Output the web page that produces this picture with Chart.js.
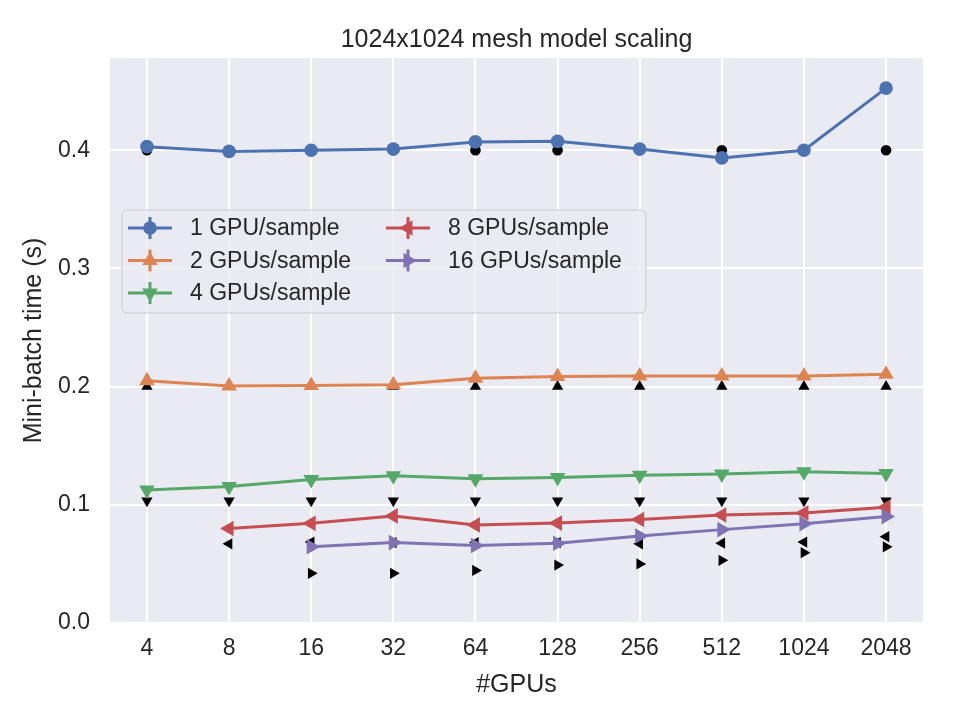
<!DOCTYPE html>
<html>
<head>
<meta charset="utf-8">
<script src="https://cdn.jsdelivr.net/npm/chart.js@4.4.1/dist/chart.umd.min.js"></script>
<style>
    html, body { margin: 0; padding: 0; background: #fff; }
    #wrap { width: 960px; height: 720px; }
</style>
</head>
<body>
<div id="wrap"><canvas id="chart" width="960" height="720"></canvas></div>
<script>
const gpus = ['4', '8', '16', '32', '64', '128', '256', '512', '1024', '2048'];
const yTicks = [0, 0.1, 0.2, 0.3, 0.4];

// measured mini-batch times (s)
const oneGpu = [0.403, 0.399, 0.400, 0.401, 0.407, 0.4075, 0.401, 0.3935, 0.400, 0.4525];
const twoGpus = [0.205, 0.2005, 0.201, 0.2015, 0.207, 0.2085, 0.209, 0.209, 0.209, 0.2105];
const fourGpus = [0.1125, 0.1155, 0.1215, 0.1245, 0.122, 0.123, 0.125, 0.126, 0.128, 0.1265];
const eightGpus = [null, 0.080, 0.0843, 0.0906, 0.083, 0.0845, 0.0875, 0.0914, 0.093, 0.098];
const sixteenGpus = [null, null, 0.0645, 0.068, 0.0655, 0.0675, 0.0736, 0.0790, 0.084, 0.090];

// black reference markers
const refOne = [0.4, 0.4, 0.4, 0.4, 0.4, 0.4, 0.4, 0.4, 0.4, 0.4];
const refTwo = [0.2, 0.2, 0.2, 0.2, 0.2, 0.2, 0.2, 0.2, 0.2, 0.2];
const refFour = [0.1035, 0.1035, 0.1035, 0.1035, 0.1035, 0.1035, 0.1035, 0.1035, 0.1035, 0.1035];
const refEight = [null, 0.067, 0.0685, 0.068, 0.068, 0.068, 0.067, 0.0675, 0.0685, 0.073];
const refSixteen = [null, null, 0.042, 0.042, 0.0445, 0.049, 0.050, 0.053, 0.0595, 0.0645];

const labels = ['1 GPU/sample', '2 GPUs/sample', '4 GPUs/sample', '8 GPUs/sample', '16 GPUs/sample'];
const colors = ['#4C72B0', '#DD8452', '#55A868', '#C44E52', '#8172B3'];
const styles = [
    { pointStyle: 'circle', rotation: 0, radius: 6.8 },
    { pointStyle: 'triangle', rotation: 0, radius: 9 },
    { pointStyle: 'triangle', rotation: 180, radius: 9 },
    { pointStyle: 'triangle', rotation: 270, radius: 9 },
    { pointStyle: 'triangle', rotation: 90, radius: 9 }
];

const FONT = "'Liberation Sans', Arial, sans-serif";
const TEXT = '#262626';

function toPoints(values) {
    const pts = [];
    values.forEach((v, i) => {
        if (v !== null) pts.push({ x: i, y: v });
    });
    return pts;
}

const series = [oneGpu, twoGpus, fourGpus, eightGpus, sixteenGpus];
const refs = [refOne, refTwo, refFour, refEight, refSixteen];

const datasets = [];
refs.forEach((r, k) => {
    datasets.push({
        label: 'ref ' + labels[k],
        data: toPoints(r),
        showLine: false,
        backgroundColor: '#000',
        borderColor: '#000',
        borderWidth: 0,
        pointStyle: styles[k].pointStyle,
        rotation: styles[k].rotation,
        pointRadius: k === 0 ? 5.3 : 6.5,
        order: 10
    });
});
series.forEach((s, k) => {
    datasets.push({
        label: labels[k],
        data: toPoints(s),
        showLine: true,
        borderColor: colors[k],
        backgroundColor: colors[k],
        borderWidth: 3,
        pointBorderWidth: 0,
        pointStyle: styles[k].pointStyle,
        rotation: styles[k].rotation,
        pointRadius: styles[k].radius,
        order: 5 - k
    });
});

// matplotlib-like legend box with errorbar handles, two columns
const boxLegend = {
    id: 'boxLegend',
    afterDraw(chart) {
        const ctx = chart.ctx;
        const bx = 122, by = 210, bw = 524, bh = 103;
        ctx.save();
        ctx.beginPath();
        ctx.roundRect(bx, by, bw, bh, 5);
        ctx.fillStyle = 'rgba(234, 234, 242, 0.8)';
        ctx.fill();
        ctx.strokeStyle = '#cccccc';
        ctx.lineWidth = 1;
        ctx.stroke();

        const cols = [128, 386];
        const rows = [228, 260.5, 293];
        ctx.font = '23px ' + FONT;
        ctx.textBaseline = 'middle';
        ctx.textAlign = 'left';
        labels.forEach((lab, k) => {
            const x0 = cols[k < 3 ? 0 : 1];
            const y = rows[k < 3 ? k : k - 3];
            const cx = x0 + 22;
            ctx.strokeStyle = colors[k];
            ctx.fillStyle = colors[k];
            ctx.lineWidth = 3;
            ctx.beginPath();
            ctx.moveTo(x0, y);
            ctx.lineTo(x0 + 44, y);
            ctx.moveTo(cx, y - 11);
            ctx.lineTo(cx, y + 11);
            ctx.stroke();
            Chart.helpers.drawPoint(ctx, {
                pointStyle: styles[k].pointStyle,
                rotation: styles[k].rotation,
                radius: styles[k].radius,
                borderWidth: 0
            }, cx, y);
            ctx.fillStyle = TEXT;
            ctx.fillText(lab, x0 + 62, y + 1);
        });
        ctx.restore();
    }
};

const plotBg = {
    id: 'plotBg',
    beforeDraw(chart) {
        const a = chart.chartArea;
        const ctx = chart.ctx;
        ctx.save();
        ctx.fillStyle = '#EAEAF2';
        ctx.fillRect(a.left, a.top, a.right - a.left, a.bottom - a.top);
        ctx.restore();
    }
};

const ctx = document.getElementById('chart').getContext('2d');
const myChart = new Chart(ctx, {
    type: 'line',
    data: { datasets: datasets },
    plugins: [plotBg, boxLegend],
    options: {
        responsive: false,
        animation: false,
        layout: { padding: { top: 0, left: 0, right: 37, bottom: 0 } },
        plugins: {
            legend: { display: false },
            tooltip: { enabled: false },
            title: {
                display: true,
                fullSize: false,
                text: '1024x1024 mesh model scaling',
                color: TEXT,
                font: { family: FONT, size: 25, weight: 'normal' },
                padding: { top: 25, bottom: 3 }
            }
        },
        scales: {
            x: {
                type: 'linear',
                min: -0.45,
                max: 9.45,
                afterBuildTicks: s => { s.ticks = gpus.map((g, i) => ({ value: i })); },
                afterFit: s => { s.height = 97; },
                ticks: {
                    callback: v => gpus[v],
                    color: TEXT,
                    font: { family: FONT, size: 23 },
                    padding: 12,
                    maxRotation: 0
                },
                grid: { color: '#ffffff', lineWidth: 2, drawTicks: false },
                border: { display: false },
                title: {
                    display: true,
                    text: '#GPUs',
                    color: TEXT,
                    font: { family: FONT, size: 25 },
                    padding: { top: 0, bottom: 20 }
                }
            },
            y: {
                min: 0,
                max: 0.478,
                afterBuildTicks: s => { s.ticks = yTicks.map(v => ({ value: v })); },
                afterFit: s => { s.width = 110; },
                ticks: {
                    callback: v => v.toFixed(1),
                    color: TEXT,
                    font: { family: FONT, size: 23 },
                    padding: 20
                },
                grid: { color: '#ffffff', lineWidth: 2, drawTicks: false },
                border: { display: false },
                title: {
                    display: true,
                    text: 'Mini-batch time (s)',
                    color: TEXT,
                    font: { family: FONT, size: 25 },
                    padding: { top: 19, bottom: 0 }
                }
            }
        }
    }
});
</script>
</body>
</html>
